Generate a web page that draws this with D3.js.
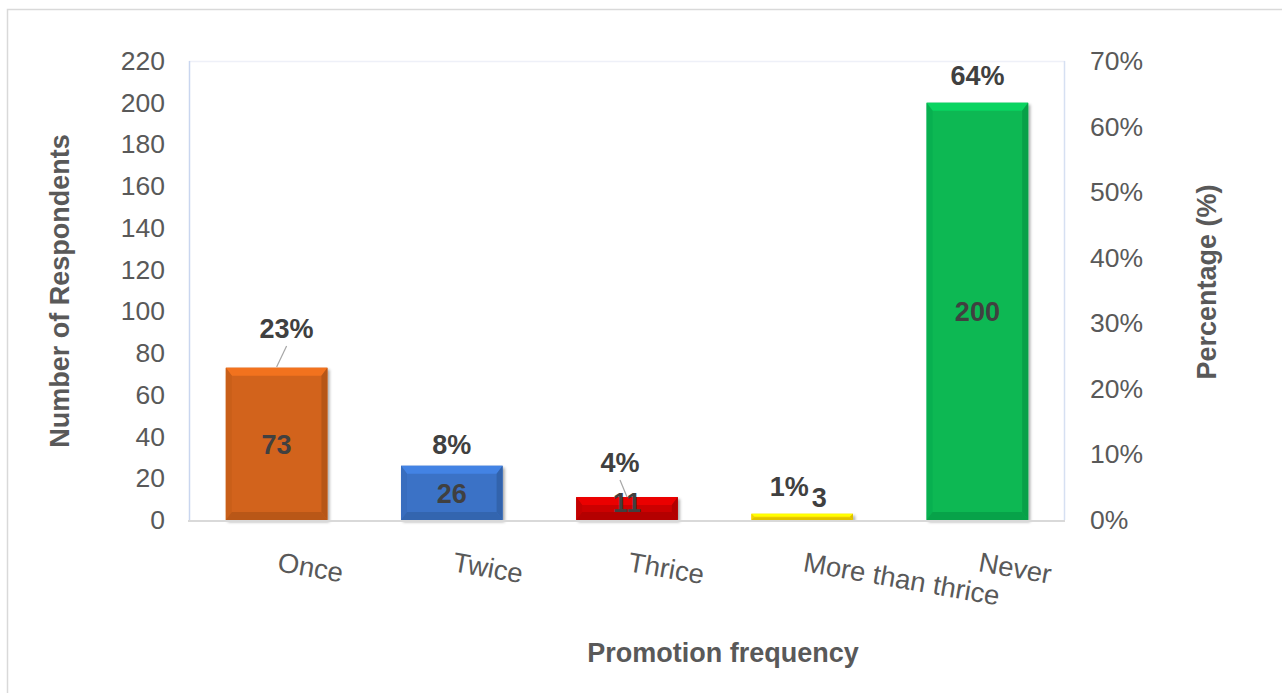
<!DOCTYPE html>
<html>
<head>
<meta charset="utf-8">
<script src="https://cdn.jsdelivr.net/npm/d3@7"></script>
<style>
  html, body { margin: 0; padding: 0; background: #fff; }
  svg { display: block; font-family: Arial, "Liberation Sans", sans-serif; }
</style>
</head>
<body>
<svg id="chart" width="1282" height="693"></svg>
<script>
// Promotion frequency survey: respondents per answer
const categories = ["Once", "Twice", "Thrice", "More than thrice", "Never"];
const respondents = [73, 26, 11, 3, 200];
const percentLabels = ["23%", "8%", "4%", "1%", "64%"];
const barColors = ["#D2631A", "#3A72C6", "#CC0000", "#FFDD00", "#08B853"];
const countTicks = [0, 20, 40, 60, 80, 100, 120, 140, 160, 180, 200, 220];
const percentTicks = [0, 0.1, 0.2, 0.3, 0.4, 0.5, 0.6, 0.7];

// label nudges (px) so overlapping labels stay readable
const pctNudge = [[10, -17], [0, 0], [-7, -13], [-13, -6], [0, -4]];
const valueNudge = [0, 0, -6, 0, 0];
const valueOutside = [false, false, false, true, false];

const W = 1282, H = 693;
const plot = { left: 189, right: 1065, top: 61, bottom: 520 };
const svg = d3.select("#chart");

const total = d3.sum(respondents);
const x = d3.scaleBand(categories, [plot.left, plot.right]).paddingInner(0.42).paddingOuter(0.21);
const y = d3.scaleLinear([0, 220], [plot.bottom, plot.top]);
const y2 = d3.scaleLinear([0, 0.7], [plot.bottom, plot.top]);

// outer chart frame
svg.append("rect").attr("x", 7.5).attr("y", 9.5).attr("width", 1320).attr("height", 720)
  .attr("fill", "#fff").attr("stroke", "#D9D9D9").attr("stroke-width", 1.5);

// plot area frame
svg.append("line").attr("x1", plot.left).attr("x2", plot.right).attr("y1", plot.top + 0.5).attr("y2", plot.top + 0.5)
  .attr("stroke", "#EEF0F8").attr("stroke-width", 1.5);
svg.append("line").attr("x1", plot.left + 0.5).attr("x2", plot.left + 0.5).attr("y1", plot.top).attr("y2", plot.bottom)
  .attr("stroke", "#C9D6EF").attr("stroke-width", 1.5);
svg.append("line").attr("x1", plot.right - 0.5).attr("x2", plot.right - 0.5).attr("y1", plot.top).attr("y2", plot.bottom)
  .attr("stroke", "#D6E0F2").attr("stroke-width", 1.5);

// bar shadow
const defs = svg.append("defs");
const f = defs.append("filter").attr("id", "shadow").attr("x", "-10%").attr("y", "-10%").attr("width", "130%").attr("height", "130%");
f.append("feDropShadow").attr("dx", 2).attr("dy", 2).attr("stdDeviation", 1.6)
  .attr("flood-color", "#000").attr("flood-opacity", 0.35);

// bevelled bars
const bars = svg.append("g").selectAll("g.bar").data(categories).join("g").attr("class", "bar");
bars.each(function (c, i) {
  const g = d3.select(this);
  const x0 = x(c), w = x.bandwidth();
  const yTop = y(respondents[i]), yBot = y(0), h = yBot - yTop;
  const base = d3.color(barColors[i]);
  const b = Math.min(8, h / 2.2);
  const s = Math.min(6, h / 2.2);
  g.append("rect").attr("x", x0).attr("y", yTop).attr("width", w).attr("height", h)
    .attr("fill", base).attr("filter", "url(#shadow)");
  const poly = (pts, fill) => g.append("polygon").attr("points", pts.map(p => p.join(",")).join(" ")).attr("fill", fill);
  // top bevel (lit)
  poly([[x0, yTop], [x0 + w, yTop], [x0 + w - s, yTop + b], [x0 + s, yTop + b]], base.brighter(0.4));
  // left bevel
  poly([[x0, yTop], [x0 + s, yTop + b], [x0 + s, yBot - b], [x0, yBot]], base.darker(0.12));
  // right bevel
  poly([[x0 + w, yTop], [x0 + w, yBot], [x0 + w - s, yBot - b], [x0 + w - s, yTop + b]], base.darker(0.4));
  // bottom bevel
  poly([[x0, yBot], [x0 + s, yBot - b], [x0 + w - s, yBot - b], [x0 + w, yBot]], base.darker(0.35));
});

// category baseline
svg.append("line").attr("x1", plot.left - 1).attr("x2", plot.right).attr("y1", plot.bottom + 1).attr("y2", plot.bottom + 1)
  .attr("stroke", "#D9D9D9").attr("stroke-width", 2);

// left axis
const axL = svg.append("g").attr("transform", `translate(${plot.left},0)`)
  .call(d3.axisLeft(y).tickValues(countTicks).tickSize(0).tickPadding(24));
axL.select(".domain").remove();
axL.selectAll("text").attr("font-size", 26.5).attr("fill", "#595959").attr("font-family", "Arial, 'Liberation Sans', sans-serif");

// right axis
const axR = svg.append("g").attr("transform", `translate(${plot.right},0)`)
  .call(d3.axisRight(y2).tickValues(percentTicks).tickFormat(d3.format(".0%")).tickSize(0).tickPadding(25));
axR.select(".domain").remove();
axR.selectAll("text").attr("font-size", 26.5).attr("fill", "#595959").attr("font-family", "Arial, 'Liberation Sans', sans-serif");

// category labels, slanted
svg.append("g").selectAll("text").data(categories).join("text")
  .attr("transform", c => `translate(${x(c) + x.bandwidth() / 2},571) rotate(10)`)
  .attr("font-size", 27.5).attr("fill", "#595959").attr("text-anchor", "start")
  .text(c => c);

// value labels
svg.append("g").selectAll("text").data(categories).join("text")
  .attr("x", (c, i) => x(c) + x.bandwidth() / 2 + (valueOutside[i] ? 17 : 0))
  .attr("y", (c, i) => (valueOutside[i] ? y(respondents[i]) - 7 : (y(respondents[i]) + y(0)) / 2) + valueNudge[i])
  .attr("dy", (c, i) => valueOutside[i] ? 0 : "0.36em")
  .attr("text-anchor", "middle").attr("font-size", 27).attr("font-weight", "bold").attr("fill", "#404040")
  .text((c, i) => respondents[i]);

// percentage labels, placed from the secondary axis
const pctPos = categories.map((c, i) => ({
  cx: x(c) + x.bandwidth() / 2,
  top: y2(respondents[i] / total),
  lx: x(c) + x.bandwidth() / 2 + pctNudge[i][0],
  ly: y2(respondents[i] / total) - 12 + pctNudge[i][1]
}));

// leader lines for labels moved away from their bars
svg.append("g").selectAll("line").data(pctPos.filter((p, i) => Math.abs(pctNudge[i][1]) > 10)).join("line")
  .attr("x1", p => p.lx).attr("y1", p => p.ly + 8)
  .attr("x2", p => p.cx).attr("y2", p => p.top)
  .attr("stroke", "#A6A6A6").attr("stroke-width", 1.2);

svg.append("g").selectAll("text").data(pctPos).join("text")
  .attr("x", p => p.lx).attr("y", p => p.ly)
  .attr("text-anchor", "middle").attr("font-size", 27).attr("font-weight", "bold").attr("fill", "#404040")
  .text((p, i) => percentLabels[i]);

// axis titles
svg.append("text").attr("transform", "translate(69,291) rotate(-90)")
  .attr("text-anchor", "middle").attr("font-size", 27).attr("font-weight", "bold").attr("fill", "#595959")
  .text("Number of Respondents");
svg.append("text").attr("transform", "translate(1216,282) rotate(-90)")
  .attr("text-anchor", "middle").attr("font-size", 27).attr("font-weight", "bold").attr("fill", "#595959")
  .text("Percentage (%)");
svg.append("text").attr("x", 723).attr("y", 662)
  .attr("text-anchor", "middle").attr("font-size", 27).attr("font-weight", "bold").attr("fill", "#595959")
  .text("Promotion frequency");
</script>
</body>
</html>
